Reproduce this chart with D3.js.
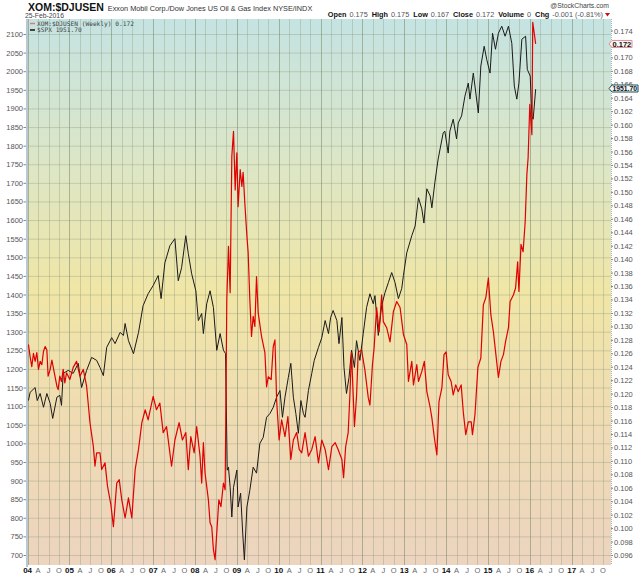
<!DOCTYPE html>
<html>
<head>
<meta charset="utf-8">
<script src="https://cdn.jsdelivr.net/npm/d3@7"></script>
<style>
  body { margin: 0; background: #fff; }
  svg { display: block; font-family: Arial, "Liberation Sans", sans-serif; }
</style>
</head>
<body>
<svg id="chart" width="640" height="576"></svg>
<script>
// S&P 500 ($SPX), weekly-ish readings (decimal year, value)
const spxYears = [2004.02,2004.06,2004.18,2004.23,2004.30,2004.38,2004.46,2004.54,2004.60,2004.70,2004.77,2004.81,2004.85,2004.97,
  2005.09,2005.21,2005.29,2005.41,2005.53,2005.65,2005.73,2005.81,2005.89,2006.01,2006.09,2006.21,2006.29,2006.33,2006.41,2006.53,
  2006.65,2006.76,2006.88,2007.00,2007.12,2007.19,2007.28,2007.40,2007.52,2007.60,2007.68,2007.78,2007.84,2007.92,2008.02,2008.08,
  2008.16,2008.20,2008.28,2008.36,2008.44,2008.52,2008.60,2008.68,2008.73,2008.77,2008.80,2008.84,2008.88,2008.92,2009.00,2009.03,
  2009.09,2009.14,2009.18,2009.24,2009.31,2009.39,2009.47,2009.55,2009.63,2009.71,2009.79,2009.87,2009.95,2010.03,2010.09,2010.15,
  2010.23,2010.29,2010.35,2010.41,2010.47,2010.53,2010.59,2010.63,2010.71,2010.79,2010.85,2010.95,2011.03,2011.11,2011.19,2011.24,
  2011.30,2011.39,2011.44,2011.51,2011.56,2011.62,2011.68,2011.74,2011.81,2011.86,2011.94,2012.02,2012.10,2012.18,2012.26,2012.30,
  2012.38,2012.46,2012.54,2012.62,2012.70,2012.78,2012.86,2012.94,2012.98,2013.06,2013.18,2013.26,2013.34,2013.42,2013.47,2013.54,
  2013.62,2013.66,2013.73,2013.81,2013.93,2013.97,2014.05,2014.09,2014.17,2014.25,2014.29,2014.37,2014.45,2014.53,2014.57,2014.65,
  2014.77,2014.83,2014.91,2014.97,2015.05,2015.11,2015.18,2015.25,2015.33,2015.41,2015.49,2015.57,2015.63,2015.69,2015.74,2015.81,
  2015.90,2015.94,2016.01,2016.05,2016.08,2016.14];
const spxValues = [1115,1137,1150,1115,1134,1097,1134,1107,1067,1124,1129,1102,1188,1196,
  1188,1215,1150,1196,1231,1223,1204,1182,1258,1284,1268,1298,1290,1322,1276,1241,
  1298,1370,1402,1424,1451,1389,1485,1531,1550,1437,1472,1558,1510,1456,1410,1330,
  1349,1295,1375,1410,1365,1250,1295,1250,1241,928,936,882,802,882,928,829,
  866,759,687,829,874,936,920,1000,1016,1070,1080,1097,1124,1142,1070,1124,
  1177,1215,1124,1080,1027,1115,1080,1070,1142,1188,1223,1258,1284,1330,1295,1338,
  1357,1330,1268,1338,1204,1134,1177,1250,1204,1276,1223,1295,1365,1402,1375,1397,
  1290,1370,1405,1432,1459,1432,1389,1416,1451,1512,1558,1584,1660,1630,1592,1684,
  1665,1633,1700,1764,1834,1839,1780,1839,1871,1818,1861,1880,1933,1968,1925,1995,
  1888,2014,2067,2032,1995,2102,2059,2102,2121,2094,2121,2075,1960,1925,1968,2086,
  2094,2005,1987,1880,1871,1951.7];

// XOM:$DJUSEN ratio (decimal year, value)
const ratioYears = [2004.02,2004.06,2004.10,2004.14,2004.18,2004.22,2004.26,2004.30,2004.34,2004.38,2004.42,2004.46,2004.49,2004.54,
  2004.58,2004.61,2004.70,2004.73,2004.77,2004.81,2004.85,2004.89,2004.93,2005.01,2005.09,2005.17,2005.25,2005.33,2005.41,2005.49,
  2005.57,2005.61,2005.65,2005.73,2005.77,2005.85,2005.91,2005.99,2006.05,2006.13,2006.19,2006.25,2006.33,2006.41,2006.49,2006.57,
  2006.65,2006.73,2006.81,2006.88,2007.00,2007.08,2007.16,2007.24,2007.32,2007.44,2007.52,2007.62,2007.70,2007.78,2007.84,2007.90,
  2007.98,2008.04,2008.12,2008.16,2008.20,2008.24,2008.32,2008.36,2008.40,2008.44,2008.48,2008.52,2008.57,2008.62,2008.68,2008.72,
  2008.76,2008.80,2008.84,2008.88,2008.92,2008.96,2009.00,2009.03,2009.08,2009.12,2009.15,2009.19,2009.24,2009.27,2009.31,2009.35,
  2009.39,2009.43,2009.47,2009.51,2009.59,2009.67,2009.71,2009.75,2009.82,2009.87,2009.91,2009.95,2010.01,2010.07,2010.15,2010.22,
  2010.29,2010.35,2010.43,2010.49,2010.55,2010.63,2010.71,2010.79,2010.87,2010.95,2011.03,2011.11,2011.19,2011.27,2011.35,2011.42,
  2011.51,2011.55,2011.60,2011.66,2011.70,2011.74,2011.81,2011.86,2011.90,2011.98,2012.06,2012.14,2012.18,2012.24,2012.28,2012.34,
  2012.40,2012.46,2012.50,2012.58,2012.66,2012.74,2012.82,2012.90,2012.98,2013.06,2013.10,2013.18,2013.22,2013.30,2013.34,2013.42,
  2013.48,2013.54,2013.62,2013.66,2013.72,2013.78,2013.83,2013.90,2013.95,2014.00,2014.05,2014.12,2014.17,2014.23,2014.29,2014.36,
  2014.41,2014.47,2014.53,2014.60,2014.63,2014.69,2014.76,2014.83,2014.89,2014.95,2015.01,2015.07,2015.13,2015.19,2015.25,2015.31,
  2015.37,2015.42,2015.49,2015.53,2015.61,2015.66,2015.71,2015.74,2015.79,2015.84,2015.89,2015.93,2015.96,2016.00,2016.05,2016.07,
  2016.11,2016.14];
const ratioValues = [0.1273,0.1255,0.1240,0.1260,0.1248,0.1261,0.1236,0.1248,0.1243,0.1263,0.1270,0.1265,0.1226,0.1236,
  0.1250,0.1240,0.1211,0.1206,0.1226,0.1218,0.1236,0.1216,0.1231,0.1221,0.1239,0.1248,0.1226,0.1236,0.1211,0.1157,
  0.1122,0.1092,0.1112,0.1112,0.1087,0.1097,0.1062,0.1035,0.1002,0.1067,0.1072,0.1042,0.1015,0.1045,0.1015,0.1087,
  0.1117,0.1157,0.1176,0.1161,0.1196,0.1176,0.1186,0.1142,0.1151,0.1092,0.1131,0.1157,0.1131,0.1142,0.1087,0.1136,
  0.1112,0.1151,0.1107,0.1067,0.1127,0.1082,0.1042,0.1008,0.1002,0.0968,0.0953,0.0993,0.1042,0.1032,0.1067,0.1057,
  0.1340,0.1419,0.1350,0.1553,0.1590,0.1503,0.1558,0.1478,0.1533,0.1508,0.1529,0.1484,0.1434,0.1410,0.1340,0.1285,
  0.1315,0.1300,0.1374,0.1320,0.1285,0.1261,0.1210,0.1225,0.1221,0.1270,0.1280,0.1191,0.1131,0.1161,0.1136,0.1166,
  0.1102,0.1131,0.1142,0.1117,0.1112,0.1142,0.1107,0.1117,0.1136,0.1097,0.1131,0.1117,0.1087,0.1121,0.1127,0.1117,
  0.1102,0.1075,0.1121,0.1142,0.1196,0.1261,0.1151,0.1196,0.1261,0.1265,0.1235,0.1194,0.1183,0.1243,0.1268,0.1328,
  0.1292,0.1347,0.1307,0.1298,0.1277,0.1322,0.1337,0.1328,0.1288,0.1273,0.1218,0.1248,0.1213,0.1243,0.1218,0.1233,
  0.1248,0.1203,0.1179,0.1164,0.1134,0.1109,0.1188,0.1209,0.1258,0.1262,0.1228,0.1218,0.1198,0.1213,0.1203,0.1213,
  0.1173,0.1139,0.1158,0.1158,0.1139,0.1169,0.1239,0.1253,0.1332,0.1343,0.1372,0.1317,0.1292,0.1258,0.1224,0.1248,
  0.1258,0.1277,0.1298,0.1337,0.1347,0.1357,0.1396,0.1352,0.1422,0.1411,0.1456,0.1526,0.1551,0.1630,0.1585,0.1752,
  0.1734,0.1720];

const leftTicks = d3.range(700, 2101, 50);
const rightTicks = d3.range(48, 88).map(k => k * 0.002);   // 0.096 .. 0.174
const years = d3.range(2004, 2018);
const quarterLabels = ["", "A", "J", "O"];

const svg = d3.select("#chart");
const plot = { left: 28, right: 611, top: 19, bottom: 565 };

const x = d3.scaleLinear().domain([2004, 2017]).range([27.6, 571.65]);
const yL = d3.scaleLinear().domain([700, 2100]).range([555, 34]);
const yR = d3.scaleLinear().domain([0.096, 0.174]).range([555, 30.5]);

// background gradient
const defs = svg.append("defs");
const grad = defs.append("linearGradient").attr("id", "bg").attr("x1", 0).attr("y1", 0).attr("x2", 0).attr("y2", 1);
[["0%", "#c4e3e2"], ["25%", "#dbe6c8"], ["50%", "#f0e6a6"], ["75%", "#efdbb4"], ["100%", "#ecd4bf"]]
  .forEach(s => grad.append("stop").attr("offset", s[0]).attr("stop-color", s[1]));
defs.append("clipPath").attr("id", "clip").append("rect")
  .attr("x", plot.left).attr("y", plot.top)
  .attr("width", plot.right - plot.left).attr("height", plot.bottom - plot.top);

svg.append("rect").attr("x", plot.left).attr("y", plot.top)
  .attr("width", plot.right - plot.left).attr("height", plot.bottom - plot.top)
  .attr("fill", "url(#bg)");

// grid
const grid = svg.append("g").attr("clip-path", "url(#clip)");
grid.selectAll("line.h").data(leftTicks).enter().append("line")
  .attr("x1", plot.left).attr("x2", plot.right)
  .attr("y1", d => yL(d) + 0.5).attr("y2", d => yL(d) + 0.5)
  .attr("stroke", "rgba(140,150,120,0.35)").attr("stroke-width", 1);

const quarters = [];
years.forEach(yr => [0, 1, 2, 3].forEach(q => quarters.push({ yr, q, t: yr + q / 4 })));
const visQ = quarters.filter(d => x(d.t) >= plot.left - 2 && x(d.t) <= plot.right);
grid.selectAll("line.v").data(visQ).enter().append("line")
  .attr("x1", d => Math.round(x(d.t)) + 0.5).attr("x2", d => Math.round(x(d.t)) + 0.5)
  .attr("y1", plot.top).attr("y2", plot.bottom)
  .attr("stroke", d => d.q === 0 ? "rgba(120,135,105,0.55)" : "rgba(140,150,120,0.35)")
  .attr("stroke-width", 1);

// borders
svg.append("line").attr("x1", 27).attr("x2", 27).attr("y1", plot.top).attr("y2", plot.bottom + 2)
  .attr("stroke", "#b9c8d2").attr("stroke-width", 2);
svg.append("line").attr("x1", plot.right + 0.5).attr("x2", plot.right + 0.5).attr("y1", plot.top).attr("y2", plot.bottom)
  .attr("stroke", "#9fb4c4").attr("stroke-width", 1).attr("stroke-dasharray", "1,1");

// series
const spxData = spxYears.map((t, i) => [t, spxValues[i]]);
const ratioData = ratioYears.map((t, i) => [t, ratioValues[i]]);
const lines = svg.append("g").attr("clip-path", "url(#clip)");
lines.append("path").datum(spxData)
  .attr("d", d3.line().x(d => x(d[0])).y(d => yL(d[1])))
  .attr("fill", "none").attr("stroke", "#1a1a1a").attr("stroke-width", 1).attr("stroke-linejoin", "round");
lines.append("path").datum(ratioData)
  .attr("d", d3.line().x(d => x(d[0])).y(d => yR(d[1])))
  .attr("fill", "none").attr("stroke", "#e00000").attr("stroke-width", 1.2).attr("stroke-linejoin", "round");

// left axis
const la = svg.append("g");
la.selectAll("text").data(leftTicks).enter().append("text")
  .attr("x", 23).attr("y", d => yL(d) + 3)
  .attr("text-anchor", "end").attr("font-size", 7.5).attr("fill", "#555")
  .text(d => d);
la.selectAll("line").data(leftTicks).enter().append("line")
  .attr("x1", 23.5).attr("x2", 26).attr("y1", d => yL(d) + 0.5).attr("y2", d => yL(d) + 0.5)
  .attr("stroke", "#888");

// value flags on right axis (the last ratio value hides its own tick label)
const lastRatio = ratioValues[ratioValues.length - 1];
const flagRatioY = yR(lastRatio);
const flagSpxY = 88.5;

const ra = svg.append("g");
ra.selectAll("text").data(rightTicks.filter(d => Math.abs(yR(d) - flagRatioY) > 4)).enter().append("text")
  .attr("x", 614).attr("y", d => yR(d) + 3)
  .attr("font-size", 7.5).attr("fill", "#555")
  .text(d => d3.format(".3f")(d));
ra.selectAll("line").data(rightTicks).enter().append("line")
  .attr("x1", 611).attr("x2", 613).attr("y1", d => yR(d) + 0.5).attr("y2", d => yR(d) + 0.5)
  .attr("stroke", "#888");

function flag(yPos, label, stroke, w, fs) {
  const g = svg.append("g");
  g.append("path")
    .attr("d", `M609,${yPos} L612,${yPos - 3.5} L${612 + w},${yPos - 3.5} L${612 + w},${yPos + 3.5} L612,${yPos + 3.5} Z`)
    .attr("fill", "#f4f8f8").attr("stroke", stroke).attr("stroke-width", 1);
  g.append("text").attr("x", 612.5).attr("y", yPos + 2.7)
    .attr("font-size", fs).attr("font-weight", "bold").attr("fill", "#111").text(label);
}
flag(flagRatioY, "0.172", "#e88a8a", 20, 7.5);
flag(flagSpxY, "1951.70", "#1c4f5a", 26, 6.8);

// x axis labels
const xa = svg.append("g");
xa.selectAll("text").data(quarters.filter(d => x(d.t) >= 24 && x(d.t) <= 606)).enter().append("text")
  .attr("x", d => x(d.t)).attr("y", 573)
  .attr("text-anchor", "middle")
  .attr("font-size", d => d.q === 0 ? 8 : 7.5)
  .attr("font-weight", d => d.q === 0 ? "bold" : "normal")
  .attr("fill", d => d.q === 0 ? "#111" : "#666")
  .text(d => d.q === 0 ? String(d.yr).slice(2) : quarterLabels[d.q]);

// header
const h = svg.append("g");
const t1 = h.append("text").attr("x", 28).attr("y", 11);
t1.append("tspan").attr("font-size", 10.5).attr("font-weight", "bold").attr("fill", "#111").text("XOM:$DJUSEN");
t1.append("tspan").attr("dx", 4).attr("font-size", 7.3).attr("fill", "#333")
  .text("Exxon Mobil Corp./Dow Jones US Oil & Gas Index  NYSE/INDX");
h.append("text").attr("x", 25).attr("y", 18).attr("font-size", 6.8).attr("fill", "#444").text("25-Feb-2016");
h.append("text").attr("x", 609).attr("y", 8).attr("text-anchor", "end")
  .attr("font-size", 6.8).attr("fill", "#444").text("@StockCharts.com");

const ohlc = h.append("text").attr("x", 603).attr("y", 17).attr("text-anchor", "end").attr("font-size", 7.3);
[["Open", "0.175"], ["High", "0.175"], ["Low", "0.167"], ["Close", "0.172"], ["Volume", "0"], ["Chg", "-0.001 (-0.81%)"]]
  .forEach((p, i) => {
    ohlc.append("tspan").attr("dx", i === 0 ? 0 : 4).attr("font-weight", "bold").attr("fill", "#111").text(p[0]);
    ohlc.append("tspan").attr("dx", 3).attr("fill", "#555").text(p[1]);
  });
h.append("path").attr("d", "M605,13 L610,13 L607.5,16.5 Z").attr("fill", "#d01010");

// legend
const lg = svg.append("g").attr("font-family", "'DejaVu Sans Mono', 'Liberation Mono', monospace").attr("font-size", 6.2);
lg.append("line").attr("x1", 30).attr("x2", 35).attr("y1", 23.5).attr("y2", 23.5).attr("stroke", "#e57878").attr("stroke-width", 1.5);
lg.append("text").attr("x", 37).attr("y", 25.6).attr("fill", "#444").text("XOM:$DJUSEN (Weekly) 0.172");
lg.append("line").attr("x1", 30).attr("x2", 35).attr("y1", 30).attr("y2", 30).attr("stroke", "#111").attr("stroke-width", 1.5);
lg.append("text").attr("x", 37).attr("y", 32.2).attr("fill", "#444").text("$SPX 1951.70");
</script>
</body>
</html>
